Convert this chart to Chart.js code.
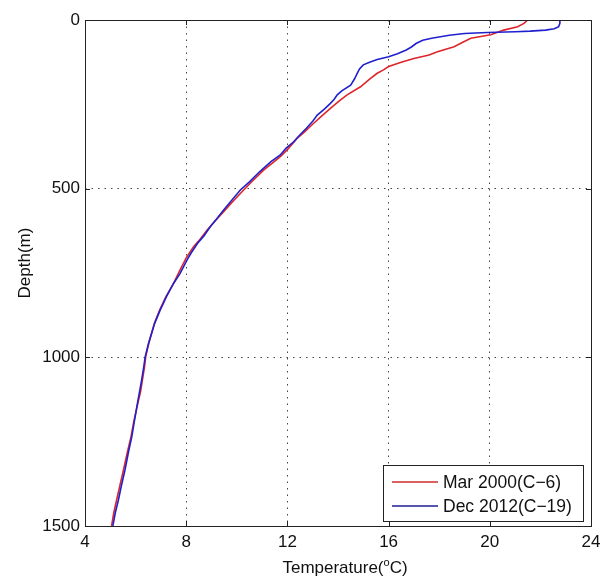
<!DOCTYPE html>
<html>
<head>
<meta charset="utf-8">
<title>Temperature profile</title>
<script src="https://cdn.jsdelivr.net/npm/chart.js@4.4.1/dist/chart.umd.min.js"></script>
<style>
  html, body { margin: 0; padding: 0; background: #fff; }
  #wrap { width: 603px; height: 578px; position: relative; }
</style>
</head>
<body>
<div id="wrap"><canvas id="profileChart" width="603" height="578"></canvas></div>
<script>
// Mar 2000 (C-6) profile: depth (m) and temperature (degC)
const depthMar2000 = [0, 10, 20, 30, 44, 54, 65, 79, 94, 104, 114, 125, 138, 148, 158, 175, 198, 222, 240, 262,
  285, 306, 330, 351, 385, 405, 445, 475, 504, 535, 568, 595, 623, 650, 672, 705, 741, 781, 820, 860,
  900, 959, 998, 1030, 1067, 1100, 1146, 1190, 1235, 1280, 1334, 1380, 1423, 1460, 1500];
const tempMar2000 = [21.5, 21.35, 21.1, 20.55, 20.04, 19.25, 18.95, 18.59, 17.93, 17.6, 17.0, 16.5, 16.0, 15.8, 15.55, 15.25, 14.89, 14.36, 14.05, 13.7,
  13.35, 13.04, 12.7, 12.38, 11.99, 11.72, 11.06, 10.65, 10.27, 9.88, 9.48, 9.15, 8.82, 8.55, 8.29, 8.0, 7.76, 7.5, 7.2, 6.95,
  6.74, 6.52, 6.4, 6.35, 6.27, 6.2, 6.06, 5.93, 5.82, 5.68, 5.52, 5.38, 5.25, 5.14, 5.05];

// Dec 2012 (C-19) profile
const depthDec2012 = [0, 10, 20, 26, 30, 33, 35, 37, 40, 45, 54, 60, 69, 80, 89, 100, 109, 117, 125, 133,
  145, 158, 175, 193, 210, 222, 235, 247, 265, 282, 300, 321, 340, 361, 380, 400, 420, 450, 480, 504,
  530, 563, 590, 613, 640, 662, 690, 712, 751, 781, 820, 860, 900, 959, 998, 1030, 1067, 1100, 1146, 1190,
  1235, 1280, 1334, 1380, 1423, 1460, 1500];
const tempDec2012 = [22.77, 22.77, 22.72, 22.55, 22.2, 21.6, 21.0, 19.9, 19.0, 18.4, 17.7, 17.35, 17.1, 16.9, 16.7, 16.35, 16.0, 15.55, 15.25, 15.0,
  14.85, 14.76, 14.65, 14.5, 14.15, 13.97, 13.85, 13.7, 13.45, 13.18, 13.0, 12.75, 12.5, 12.25, 11.95, 11.72, 11.35, 10.9, 10.5, 10.14,
  9.85, 9.48, 9.2, 8.95, 8.7, 8.45, 8.2, 8.03, 7.76, 7.5, 7.22, 6.97, 6.75, 6.51, 6.38, 6.32, 6.24, 6.16, 6.05, 5.95,
  5.85, 5.72, 5.58, 5.44, 5.32, 5.2, 5.1];

const seriesLabels = ['Mar 2000(C\u22126)', 'Dec 2012(C\u221219)'];
const tempTicks = [4, 8, 12, 16, 20, 24];
const depthTicks = [0, 500, 1000, 1500];

const FONT = '"Liberation Sans", Arial, sans-serif';
const redLine = 'rgb(222, 38, 42)';
const blueLine = 'rgb(32, 32, 205)';

const toPoints = (depths, temps) => depths.map((d, i) => ({ x: temps[i], y: d }));

// MATLAB style frame, inward ticks, titles and boxed legend
const matlabFrame = {
    id: 'matlabFrame',
    afterDraw(chart) {
        const ctx = chart.ctx;
        const a = chart.chartArea;
        const xs = chart.scales.x;
        const ys = chart.scales.y;
        ctx.save();

        ctx.strokeStyle = '#222';
        ctx.lineWidth = 1;
        ctx.strokeRect(a.left + 0.5, a.top + 0.5, a.right - a.left, a.bottom - a.top);

        ctx.beginPath();
        tempTicks.forEach(t => {
            const px = Math.round(xs.getPixelForValue(t)) + 0.5;
            ctx.moveTo(px, a.bottom); ctx.lineTo(px, a.bottom - 5);
            ctx.moveTo(px, a.top); ctx.lineTo(px, a.top + 5);
        });
        depthTicks.forEach(d => {
            const py = Math.round(ys.getPixelForValue(d)) + 0.5;
            ctx.moveTo(a.left, py); ctx.lineTo(a.left + 5, py);
            ctx.moveTo(a.right, py); ctx.lineTo(a.right - 5, py);
        });
        ctx.stroke();

        // axis titles
        ctx.fillStyle = '#111';
        ctx.textBaseline = 'alphabetic';
        const part1 = 'Temperature(';
        const part3 = 'C)';
        ctx.font = '17px ' + FONT;
        const w1 = ctx.measureText(part1).width;
        const w3 = ctx.measureText(part3).width;
        ctx.font = '11px ' + FONT;
        const w2 = ctx.measureText('o').width;
        const total = w1 + w2 + w3;
        const tx = 345 - total / 2;
        const ty = 573;
        ctx.textAlign = 'left';
        ctx.font = '17px ' + FONT;
        ctx.fillText(part1, tx, ty);
        ctx.font = '11px ' + FONT;
        ctx.fillText('o', tx + w1, ty - 7);
        ctx.font = '17px ' + FONT;
        ctx.fillText(part3, tx + w1 + w2, ty);

        ctx.save();
        ctx.translate(30, 263);
        ctx.rotate(-Math.PI / 2);
        ctx.textAlign = 'center';
        ctx.fillText('Depth(m)', 0, 0);
        ctx.restore();

        // legend
        const lx = 383, ly = 465, lw = 200, lh = 56;
        ctx.fillStyle = '#fff';
        ctx.fillRect(lx, ly, lw, lh);
        ctx.strokeStyle = '#222';
        ctx.strokeRect(lx + 0.5, ly + 0.5, lw, lh);
        const rows = [
            { label: seriesLabels[0], color: 'rgb(205, 45, 45)', y: 482 },
            { label: seriesLabels[1], color: 'rgb(30, 30, 150)', y: 506 }
        ];
        ctx.font = '17.5px ' + FONT;
        ctx.textAlign = 'left';
        ctx.textBaseline = 'middle';
        rows.forEach(r => {
            ctx.strokeStyle = r.color;
            ctx.lineWidth = 1.5;
            ctx.beginPath();
            ctx.moveTo(392, r.y); ctx.lineTo(438, r.y);
            ctx.stroke();
            ctx.fillStyle = '#111';
            ctx.fillText(r.label, 443, r.y + 1);
        });
        ctx.restore();
    }
};

const ctx = document.getElementById('profileChart').getContext('2d');
new Chart(ctx, {
    type: 'scatter',
    data: {
        datasets: [
            {
                label: seriesLabels[0],
                data: toPoints(depthMar2000, tempMar2000),
                showLine: true,
                borderColor: redLine,
                borderWidth: 1.6,
                pointRadius: 0,
                tension: 0,
                order: 1
            },
            {
                label: seriesLabels[1],
                data: toPoints(depthDec2012, tempDec2012),
                showLine: true,
                borderColor: blueLine,
                borderWidth: 1.6,
                pointRadius: 0,
                tension: 0,
                order: 0
            }
        ]
    },
    options: {
        responsive: false,
        animation: false,
        events: [],
        layout: { padding: { left: 0, top: 20, right: 12, bottom: 0 } },
        plugins: {
            legend: { display: false },
            tooltip: { enabled: false }
        },
        scales: {
            x: {
                type: 'linear',
                position: 'bottom',
                min: 4,
                max: 24,
                afterBuildTicks: (scale) => { scale.ticks = tempTicks.map(v => ({ value: v })); },
                afterFit: (scale) => {
                    scale.height = 52;
                    scale.paddingLeft = 0;
                    scale.paddingRight = 0;
                },
                ticks: {
                    color: '#111',
                    font: { family: FONT, size: 17 },
                    padding: 6,
                    maxRotation: 0,
                    callback: (v) => String(v)
                },
                grid: {
                    color: '#444',
                    lineWidth: 1,
                    drawTicks: false
                },
                border: { display: false, dash: [1.5, 5] }
            },
            y: {
                type: 'linear',
                reverse: true,
                min: 0,
                max: 1500,
                afterBuildTicks: (scale) => { scale.ticks = depthTicks.map(v => ({ value: v })); },
                afterFit: (scale) => {
                    scale.width = 85;
                    scale.paddingTop = 0;
                    scale.paddingBottom = 0;
                },
                ticks: {
                    color: '#111',
                    font: { family: FONT, size: 17 },
                    padding: 5,
                    callback: (v) => String(v)
                },
                grid: {
                    color: '#444',
                    lineWidth: 1,
                    drawTicks: false
                },
                border: { display: false, dash: [1.5, 5] }
            }
        }
    },
    plugins: [matlabFrame]
});
</script>
</body>
</html>
